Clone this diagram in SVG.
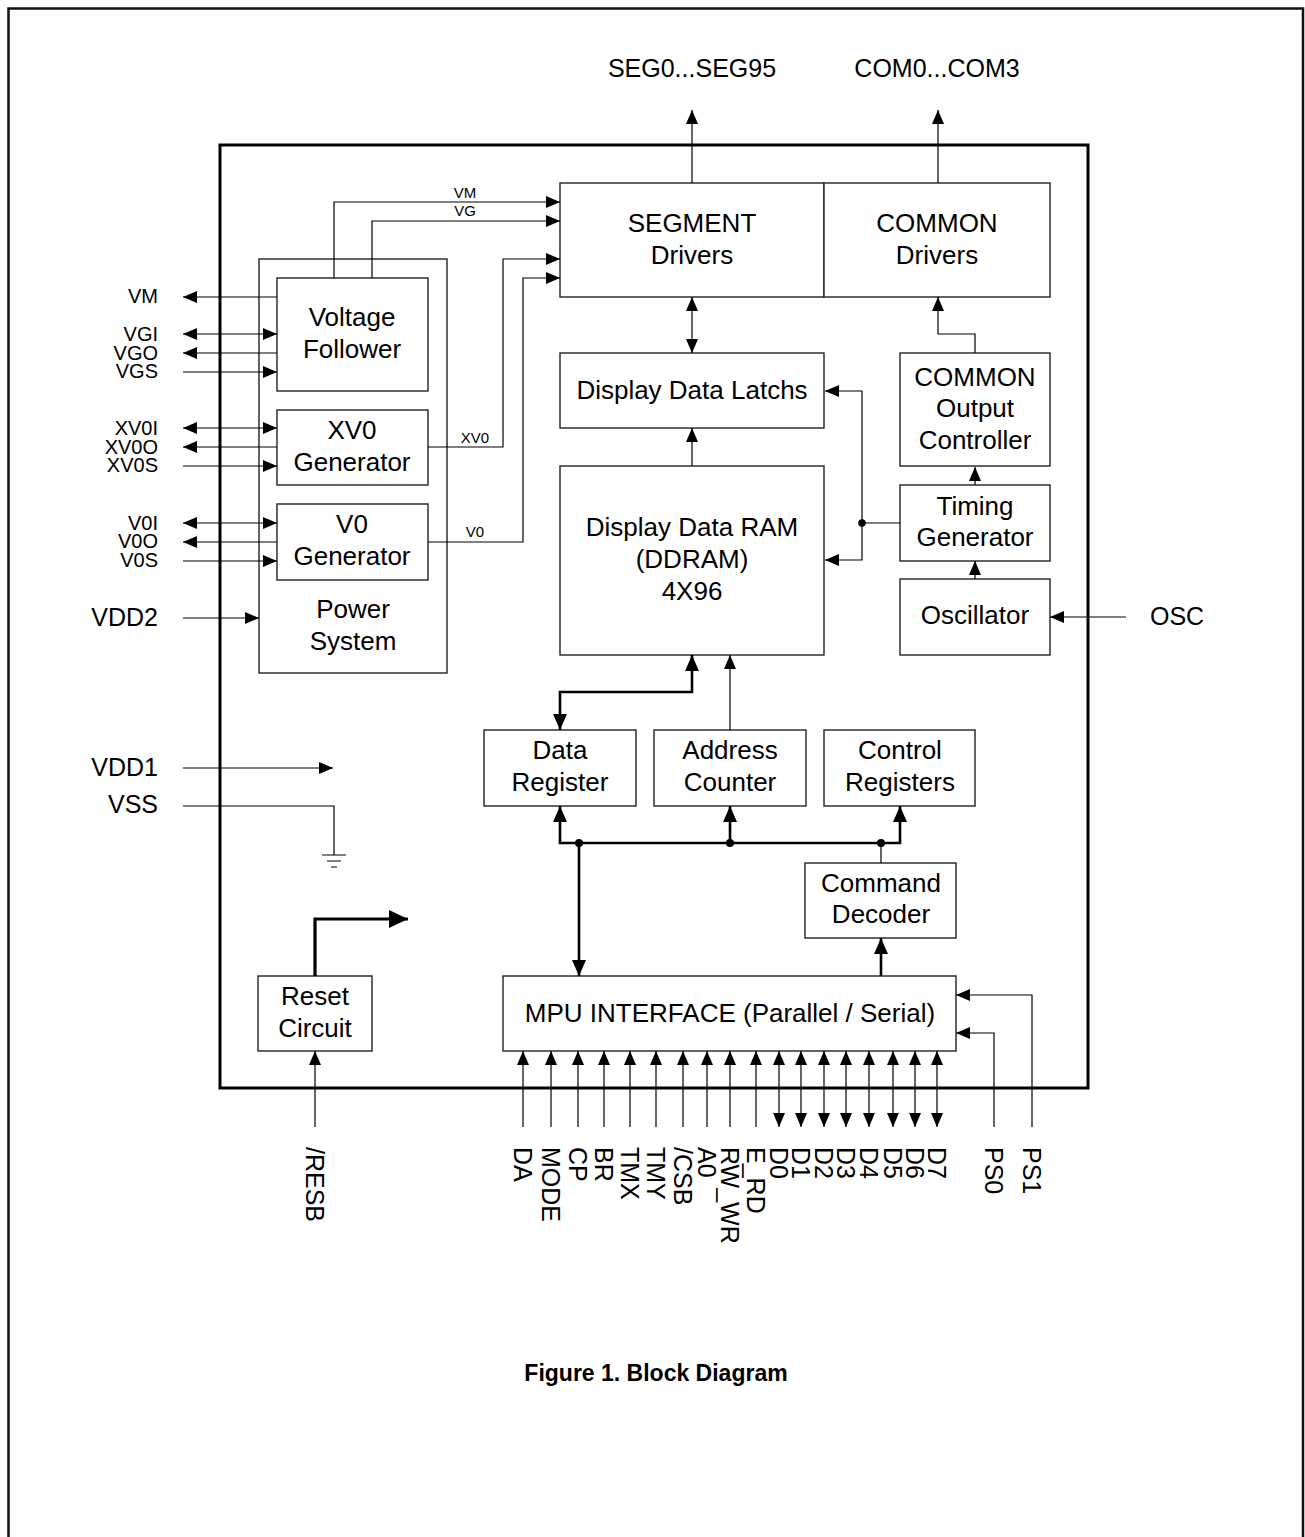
<svg xmlns="http://www.w3.org/2000/svg" width="1305" height="1537" viewBox="0 0 1305 1537">
<defs>
<marker id="ah" viewBox="0 0 14 12" refX="14" refY="6" markerWidth="14" markerHeight="12" markerUnits="userSpaceOnUse" orient="auto-start-reverse"><path d="M0,0 L14,6 L0,12 Z" fill="#000"/></marker>
<marker id="ahb" viewBox="0 0 16 14" refX="16" refY="7" markerWidth="16" markerHeight="14" markerUnits="userSpaceOnUse" orient="auto-start-reverse"><path d="M0,0 L16,7 L0,14 Z" fill="#000"/></marker>
<marker id="ahr" viewBox="0 0 19 18" refX="19" refY="9" markerWidth="19" markerHeight="18" markerUnits="userSpaceOnUse" orient="auto"><path d="M0,0 L19,9 L0,18 Z" fill="#000"/></marker>
</defs>
<style>
.b{fill:#fff;stroke:#222;stroke-width:1.4}
.t{font-family:"Liberation Sans",Arial,sans-serif;font-size:26px;text-anchor:middle;fill:#000}
.pl{font-family:"Liberation Sans",Arial,sans-serif;font-size:20px;text-anchor:end;fill:#000}
.pb{font-family:"Liberation Sans",Arial,sans-serif;font-size:25px;fill:#000}
.s{font-family:"Liberation Sans",Arial,sans-serif;font-size:15px;text-anchor:middle;fill:#000}
.w{fill:none;stroke:#000;stroke-width:1.2}
.k{fill:none;stroke:#000;stroke-width:2.6}
.a{marker-end:url(#ah)}
.a2{marker-start:url(#ah);marker-end:url(#ah)}
.ab{marker-end:url(#ahb)}
.ab2{marker-start:url(#ahb);marker-end:url(#ahb)}
</style>
<rect width="1305" height="1537" fill="#fff"/>
<path d="M8.5,1537 V8.5 H1303 V1537" fill="none" stroke="#111" stroke-width="2.5"/>
<rect x="220" y="145" width="868" height="943" fill="none" stroke="#000" stroke-width="3"/>

<g id="power-system">
<rect class="b" x="259" y="259" width="188" height="414"/>
<text class="t" x="353" y="618">Power</text>
<text class="t" x="353" y="650">System</text>
</g>
<g id="voltage-follower">
<rect class="b" x="277" y="278" width="151" height="113"/>
<text class="t" x="352" y="326">Voltage</text>
<text class="t" x="352" y="358">Follower</text>
</g>
<g id="xv0-generator">
<rect class="b" x="277" y="410" width="151" height="75"/>
<text class="t" x="352" y="439">XV0</text>
<text class="t" x="352" y="471">Generator</text>
</g>
<g id="v0-generator">
<rect class="b" x="277" y="504" width="151" height="76"/>
<text class="t" x="352" y="533">V0</text>
<text class="t" x="352" y="565">Generator</text>
</g>
<g id="segment-drivers">
<rect class="b" x="560" y="183" width="264" height="114"/>
<text class="t" x="692" y="232">SEGMENT</text>
<text class="t" x="692" y="264">Drivers</text>
</g>
<g id="common-drivers">
<rect class="b" x="824" y="183" width="226" height="114"/>
<text class="t" x="937" y="232">COMMON</text>
<text class="t" x="937" y="264">Drivers</text>
</g>
<g id="display-data-latchs">
<rect class="b" x="560" y="353" width="264" height="75"/>
<text class="t" x="692" y="399">Display Data Latchs</text>
</g>
<g id="ddram">
<rect class="b" x="560" y="466" width="264" height="189"/>
<text class="t" x="692" y="536">Display Data RAM</text>
<text class="t" x="692" y="568">(DDRAM)</text>
<text class="t" x="692" y="600">4X96</text>
</g>
<g id="common-output-controller">
<rect class="b" x="900" y="353" width="150" height="113"/>
<text class="t" x="975" y="386">COMMON</text>
<text class="t" x="975" y="417">Output</text>
<text class="t" x="975" y="449">Controller</text>
</g>
<g id="timing-generator">
<rect class="b" x="900" y="485" width="150" height="76"/>
<text class="t" x="975" y="515">Timing</text>
<text class="t" x="975" y="546">Generator</text>
</g>
<g id="oscillator">
<rect class="b" x="900" y="579" width="150" height="76"/>
<text class="t" x="975" y="624">Oscillator</text>
</g>
<g id="data-register">
<rect class="b" x="484" y="730" width="152" height="76"/>
<text class="t" x="560" y="759">Data</text>
<text class="t" x="560" y="791">Register</text>
</g>
<g id="address-counter">
<rect class="b" x="654" y="730" width="152" height="76"/>
<text class="t" x="730" y="759">Address</text>
<text class="t" x="730" y="791">Counter</text>
</g>
<g id="control-registers">
<rect class="b" x="824" y="730" width="151" height="76"/>
<text class="t" x="900" y="759">Control</text>
<text class="t" x="900" y="791">Registers</text>
</g>
<g id="command-decoder">
<rect class="b" x="805" y="863" width="151" height="75"/>
<text class="t" x="881" y="892">Command</text>
<text class="t" x="881" y="923">Decoder</text>
</g>
<g id="mpu-interface">
<rect class="b" x="503" y="976" width="453" height="75"/>
<text class="t" x="730" y="1022">MPU INTERFACE (Parallel / Serial)</text>
</g>
<g id="reset-circuit">
<rect class="b" x="258" y="976" width="114" height="75"/>
<text class="t" x="315" y="1005">Reset</text>
<text class="t" x="315" y="1037">Circuit</text>
</g>

<g id="connectors">
<path class="w a" d="M692,183 V110"/>
<path class="w a" d="M938,183 V110"/>
<path class="w a" d="M334,278 V202 H560"/>
<path class="w a" d="M372,278 V221 H560"/>
<path class="w a" d="M428,447 H503 V259 H560"/>
<path class="w a" d="M428,542 H523 V278 H560"/>
<path class="w a" d="M277,297 H183"/>
<path class="w a2" d="M183,334 H277"/>
<path class="w a" d="M277,353 H183"/>
<path class="w a" d="M183,372 H277"/>
<path class="w a2" d="M183,428 H277"/>
<path class="w a" d="M277,447 H183"/>
<path class="w a" d="M183,466 H277"/>
<path class="w a2" d="M183,523 H277"/>
<path class="w a" d="M277,542 H183"/>
<path class="w a" d="M183,561 H277"/>
<path class="w a" d="M183,618 H259"/>
<path class="w a" d="M183,768 H333"/>
<path class="w" d="M183,806 H334 V855 M322,855 H346 M327,861 H341 M331,867 H337"/>
<path class="w a2" d="M692,297 V353"/>
<path class="w a" d="M692,466 V428"/>
<path class="w a" d="M975,353 V334 H938 V297"/>
<path class="w a" d="M975,485 V467"/>
<path class="w a" d="M975,579 V561"/>
<path class="w a2" d="M825,391 H862 V560 H825"/>
<path class="w" d="M862,523 H900"/>
<circle cx="862" cy="523" r="3.8" fill="#000"/>
<path class="w a" d="M1126,617 H1050"/>
<path class="k ab2" d="M692,655 V692 H560 V730"/>
<path class="w a" d="M730,730 V655"/>
<path class="k ab2" d="M560,806 V843 H900 V806"/>
<path class="k ab" d="M730,843 V806"/>
<circle cx="579" cy="843" r="4" fill="#000"/>
<circle cx="730" cy="843" r="4" fill="#000"/>
<circle cx="881" cy="843" r="4" fill="#000"/>
<path class="k ab" d="M579,843 V976"/>
<path class="w" d="M881,843 V863"/>
<path class="k ab" d="M881,976 V938"/>
<path class="w a" d="M1032,1127 V995 H956"/>
<path class="w a" d="M994,1127 V1033 H956"/>
<path class="w a" d="M523,1127 V1051"/>
<path class="w a" d="M551,1127 V1051"/>
<path class="w a" d="M578,1127 V1051"/>
<path class="w a" d="M604,1127 V1051"/>
<path class="w a" d="M630,1127 V1051"/>
<path class="w a" d="M656,1127 V1051"/>
<path class="w a" d="M683,1127 V1051"/>
<path class="w a" d="M707,1127 V1051"/>
<path class="w a" d="M730,1127 V1051"/>
<path class="w a" d="M756,1127 V1051"/>
<path class="w a2" d="M779,1127 V1051"/>
<path class="w a2" d="M801,1127 V1051"/>
<path class="w a2" d="M824,1127 V1051"/>
<path class="w a2" d="M846,1127 V1051"/>
<path class="w a2" d="M869,1127 V1051"/>
<path class="w a2" d="M893,1127 V1051"/>
<path class="w a2" d="M915,1127 V1051"/>
<path class="w a2" d="M937,1127 V1051"/>
<path class="w a" d="M315,1127 V1051"/>
<path d="M315,976 V919 H408" fill="none" stroke="#000" stroke-width="3.2" marker-end="url(#ahr)"/>
</g>

<g id="labels">
<text class="pb" x="692" y="77" text-anchor="middle" font-size="26">SEG0...SEG95</text>
<text class="pb" x="937" y="77" text-anchor="middle" font-size="26">COM0...COM3</text>
<text class="s" x="465" y="198">VM</text>
<text class="s" x="465" y="216">VG</text>
<text class="s" x="475" y="443">XV0</text>
<text class="s" x="475" y="537">V0</text>
<text class="pl" x="158" y="303">VM</text>
<text class="pl" x="158" y="341">VGI</text>
<text class="pl" x="158" y="359.5">VGO</text>
<text class="pl" x="158" y="378">VGS</text>
<text class="pl" x="158" y="435">XV0I</text>
<text class="pl" x="158" y="453.5">XV0O</text>
<text class="pl" x="158" y="472">XV0S</text>
<text class="pl" x="158" y="529.5">V0I</text>
<text class="pl" x="158" y="548">V0O</text>
<text class="pl" x="158" y="567">V0S</text>
<text class="pb" x="158" y="626" text-anchor="end">VDD2</text>
<text class="pb" x="158" y="776" text-anchor="end">VDD1</text>
<text class="pb" x="158" y="813" text-anchor="end">VSS</text>
<text class="pb" x="1150" y="625">OSC</text>
<text class="pb" transform="translate(306,1147) rotate(90)">/RESB</text>
<text class="pb" transform="translate(514,1147) rotate(90)">DA</text>
<text class="pb" transform="translate(542,1147) rotate(90)">MODE</text>
<text class="pb" transform="translate(569,1147) rotate(90)">CP</text>
<text class="pb" transform="translate(595,1147) rotate(90)">BR</text>
<text class="pb" transform="translate(621,1147) rotate(90)">TMX</text>
<text class="pb" transform="translate(647,1147) rotate(90)">TMY</text>
<text class="pb" transform="translate(674,1147) rotate(90)">/CSB</text>
<text class="pb" transform="translate(698,1147) rotate(90)">A0</text>
<text class="pb" transform="translate(721,1147) rotate(90)">RW_WR</text>
<text class="pb" transform="translate(747,1147) rotate(90)">E_RD</text>
<text class="pb" transform="translate(770,1147) rotate(90)">D0</text>
<text class="pb" transform="translate(792,1147) rotate(90)">D1</text>
<text class="pb" transform="translate(815,1147) rotate(90)">D2</text>
<text class="pb" transform="translate(837,1147) rotate(90)">D3</text>
<text class="pb" transform="translate(860,1147) rotate(90)">D4</text>
<text class="pb" transform="translate(884,1147) rotate(90)">D5</text>
<text class="pb" transform="translate(906,1147) rotate(90)">D6</text>
<text class="pb" transform="translate(928,1147) rotate(90)">D7</text>
<text class="pb" transform="translate(985,1147) rotate(90)">PS0</text>
<text class="pb" transform="translate(1023,1147) rotate(90)">PS1</text>
<text x="656" y="1381" text-anchor="middle" font-family="'Liberation Sans',Arial,sans-serif" font-size="23" font-weight="bold">Figure 1. Block Diagram</text>
</g>
</svg>
